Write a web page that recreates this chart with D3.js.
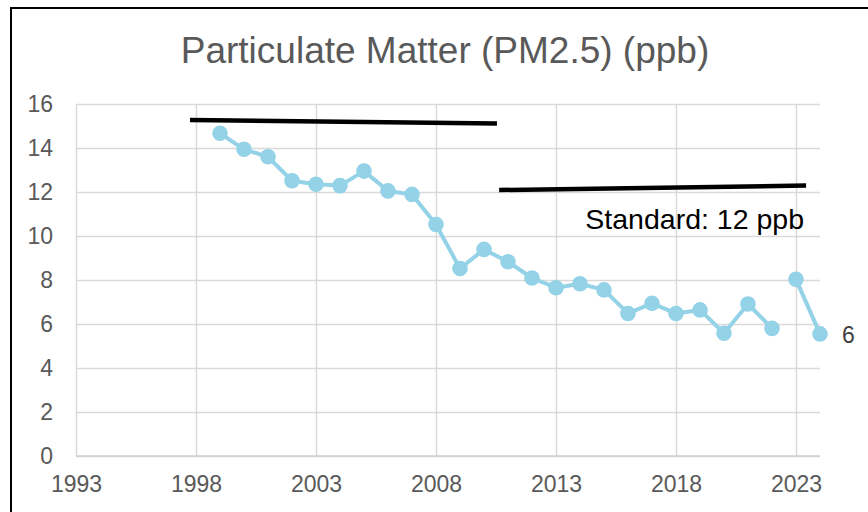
<!DOCTYPE html>
<html>
<head>
<meta charset="utf-8">
<script src="https://cdn.jsdelivr.net/npm/d3@7"></script>
<style>
  body { margin: 0; background: #fff; overflow: hidden; }
  svg { display: block; font-family: Arial, "Liberation Sans", sans-serif; }
</style>
</head>
<body>
<div class="chartWrapper"></div>
<script>
const chartWidth = 868, chartHeight = 512;
const plotLeft = 76, plotRight = 820, plotTop = 104, plotBottom = 456;

// yearly PM2.5 readings (ppb)
const years = [1999, 2000, 2001, 2002, 2003, 2004, 2005, 2006, 2007, 2008, 2009, 2010,
  2011, 2012, 2013, 2014, 2015, 2016, 2017, 2018, 2019, 2020, 2021, 2022];
const pm25 = [14.67, 13.94, 13.6, 12.51, 12.35, 12.29, 12.95, 12.05, 11.89, 10.52, 8.52, 9.39,
  8.83, 8.09, 7.65, 7.83, 7.55, 6.48, 6.94, 6.48, 6.64, 5.58, 6.91, 5.8];
// last two years are plotted as a separate run (no line joining 2022 -> 2023)
const recentYears = [2023, 2024];
const recentPm25 = [8.03, 5.55];

const xTicks = [1993, 1998, 2003, 2008, 2013, 2018, 2023];
const yTicks = [0, 2, 4, 6, 8, 10, 12, 14, 16];

// hand drawn standard lines: [start, end] in years and ppb
const standardYears = [[1997.75, 2010.54], [2010.63, 2023.42]];
const standardLevels = [[15.27, 15.11], [12.09, 12.29]];
const standardLabel = "Standard: 12 ppb";

const lineColor = "#94d2e7";

const svg = d3.select(".chartWrapper").append("svg")
    .attr("width", chartWidth)
    .attr("height", chartHeight);

// chart frame: only the top and left edges are inside the picture
svg.append("path")
    .attr("d", `M11,${chartHeight + 5}V8H${chartWidth + 5}`)
    .attr("fill", "none")
    .attr("stroke", "#000")
    .attr("stroke-width", 2);

const x = d3.scaleLinear().domain([1993, 2024]).range([plotLeft, plotRight]);
const y = d3.scaleLinear().domain([0, 16]).range([plotBottom, plotTop]);

svg.append("text")
    .attr("x", 445).attr("y", 63)
    .attr("text-anchor", "middle")
    .attr("font-size", 37)
    .attr("fill", "#595959")
    .text("Particulate Matter (PM2.5) (ppb)");

// horizontal gridlines + y labels
const yAxis = svg.append("g")
    .attr("transform", `translate(${plotLeft},0)`)
    .call(d3.axisLeft(y).tickValues(yTicks).tickSize(-(plotRight - plotLeft)).tickPadding(23));
yAxis.select(".domain").remove();
yAxis.selectAll(".tick line").attr("stroke", "#d9d9d9").attr("stroke-width", 1.5);
yAxis.selectAll(".tick text")
    .attr("font-size", 23)
    .attr("font-family", "Arial, 'Liberation Sans', sans-serif")
    .attr("fill", "#595959");

// vertical gridlines + x labels
const xAxis = svg.append("g")
    .attr("transform", `translate(0,${plotBottom})`)
    .call(d3.axisBottom(x).tickValues(xTicks).tickFormat(d3.format("d"))
      .tickSize(-(plotBottom - plotTop)).tickPadding(20));
xAxis.select(".domain").remove();
xAxis.selectAll(".tick line").attr("stroke", "#d9d9d9").attr("stroke-width", 1.5);
xAxis.selectAll(".tick text")
    .attr("font-size", 23)
    .attr("font-family", "Arial, 'Liberation Sans', sans-serif")
    .attr("fill", "#595959");

svg.append("line")
    .attr("x1", plotLeft).attr("x2", plotRight)
    .attr("y1", plotBottom).attr("y2", plotBottom)
    .attr("stroke", "#d0d0d0")
    .attr("stroke-width", 1.5);

// standard lines
standardYears.forEach((yrs, i) => {
  svg.append("line")
      .attr("x1", x(yrs[0])).attr("y1", y(standardLevels[i][0]))
      .attr("x2", x(yrs[1])).attr("y2", y(standardLevels[i][1]))
      .attr("stroke", "#000")
      .attr("stroke-width", 4.5);
});

svg.append("text")
    .attr("x", 804).attr("y", 229)
    .attr("text-anchor", "end")
    .attr("font-size", 28.5)
    .attr("fill", "#000")
    .text(standardLabel);

const line = d3.line().x(d => x(d[0])).y(d => y(d[1]));

function drawRun(runYears, runValues) {
  const pts = runYears.map((yr, i) => [yr, runValues[i]]);
  svg.append("path")
      .datum(pts)
      .attr("d", line)
      .attr("fill", "none")
      .attr("stroke", lineColor)
      .attr("stroke-width", 4)
      .attr("stroke-linejoin", "round");
  svg.append("g").selectAll("circle")
      .data(pts)
      .join("circle")
      .attr("cx", d => x(d[0]))
      .attr("cy", d => y(d[1]))
      .attr("r", 7.8)
      .attr("fill", lineColor);
}

drawRun(years, pm25);
drawRun(recentYears, recentPm25);

// data label on the latest point
const lastIdx = recentYears.length - 1;
svg.append("text")
    .attr("x", x(recentYears[lastIdx]) + 22)
    .attr("y", y(recentPm25[lastIdx]) + 9)
    .attr("font-size", 23)
    .attr("fill", "#404040")
    .text(d3.format(".0f")(recentPm25[lastIdx]));
</script>
</body>
</html>
